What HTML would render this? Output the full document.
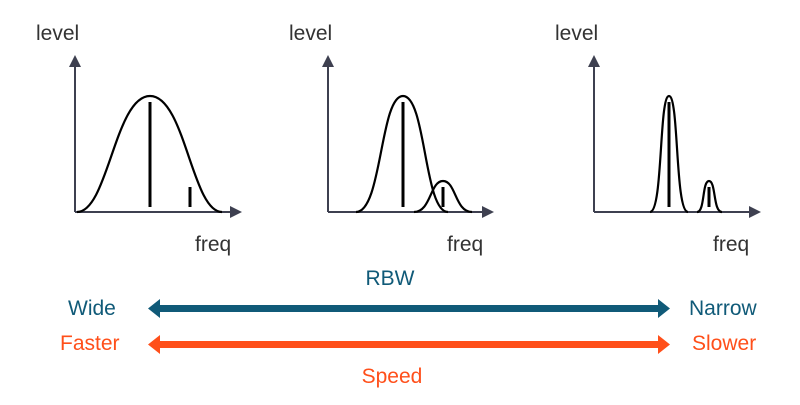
<!DOCTYPE html>
<html><head><meta charset="utf-8"><style>
html,body{margin:0;padding:0;background:#fff;}
svg{display:block;}
text{font-family:"Liberation Sans",sans-serif;font-size:21px;}
</style></head><body>
<svg width="800" height="405" viewBox="0 0 800 405" xmlns="http://www.w3.org/2000/svg">
<defs>
<marker id="ah" markerWidth="12" markerHeight="12" refX="2" refY="6" orient="auto" markerUnits="userSpaceOnUse">
<path d="M0,0 L12,6 L0,12 Z" fill="#3e4050"/></marker>
</defs>
<g stroke="#3e4050" stroke-width="2" fill="none">
<path d="M75,212 V65" marker-end="url(#ah)"/><path d="M75,212 H232" marker-end="url(#ah)"/>
<path d="M328,212 V65" marker-end="url(#ah)"/><path d="M328,212 H484" marker-end="url(#ah)"/>
<path d="M594,212 V65" marker-end="url(#ah)"/><path d="M594,212 H751" marker-end="url(#ah)"/>
</g>
<g stroke="#000" stroke-width="2.2" fill="none">
<path d="M77,212 C108,212 115,96 150,96 C185,96 192,212 222,212"/>
<path d="M356,212 C382,212 380,96 403,96 C426,96 424,212 448,212"/>
<path d="M414,212 C431,212 430,181 443,181 C456,181 455,212 472,212"/>
<path d="M650,212 C663,212 659,96 669,96 C679,96 675,212 688,212"/>
<path d="M697,212 C705,212 702,181 709,181 C716,181 713,212 722,212"/>
</g>
<g stroke="#000" stroke-width="3">
<path d="M150,102 V207"/><path d="M190,187 V207"/>
<path d="M403,102 V207"/><path d="M443,187 V207"/>
<path d="M669,102 V207"/><path d="M709,187 V207"/>
</g>
<g fill="#333">
<text x="36" y="40">level</text><text x="195" y="251">freq</text>
<text x="289" y="40">level</text><text x="447" y="251">freq</text>
<text x="555" y="40">level</text><text x="713" y="251">freq</text>
</g>
<g fill="#105a78">
<path d="M160,305 H658 V299 L670,308.5 L658,318 V312 H160 V318 L148,308.5 L160,299 Z"/>
<text x="390" y="285" text-anchor="middle">RBW</text>
<text x="68" y="315">Wide</text>
<text x="689" y="315">Narrow</text>
</g>
<g fill="#ff4f1a">
<path d="M160,341 H658 V335 L670,344.5 L658,354 V348 H160 V354 L148,344.5 L160,335 Z"/>
<text x="60" y="350">Faster</text>
<text x="692" y="350">Slower</text>
<text x="392" y="383" text-anchor="middle">Speed</text>
</g>
</svg>
</body></html>
